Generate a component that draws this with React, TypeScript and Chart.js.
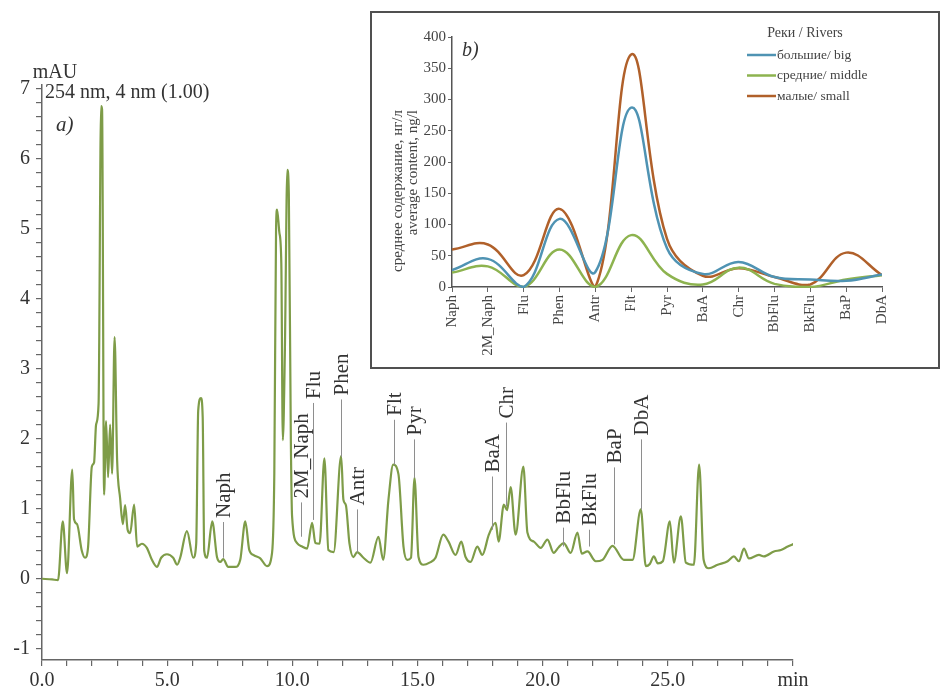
import React, { useEffect, useRef } from 'react';
import { Chart, registerables } from 'chart.js';

Chart.register(...registerables);

const FONT = "'Liberation Serif', 'Times New Roman', serif";
const TEXT = '#333333';

// ---- Chromatogram (a) ----
const retentionTimes = [
  0.0, 0.4, 0.64, 0.83, 1.0, 1.21, 1.28, 1.4, 1.59, 1.72, 1.84, 1.99, 2.08, 2.16, 2.26, 2.36, 2.4, 2.48,
  2.56, 2.64, 2.72, 2.8, 2.9, 3.0, 3.12, 3.23, 3.32, 3.42, 3.52, 3.68, 3.8, 3.99, 4.19, 4.39, 4.59, 4.76,
  4.99, 5.24, 5.4, 5.52, 5.79, 6.04, 6.16, 6.24, 6.35, 6.42, 6.48, 6.59, 6.8, 6.99, 7.12, 7.24, 7.44, 7.72,
  7.92, 8.12, 8.28, 8.44, 8.72, 8.99, 9.19, 9.28, 9.35, 9.39, 9.48, 9.56, 9.62, 9.7, 9.8, 9.86, 9.94, 9.99, 10.19,
  10.39, 10.59, 10.79, 10.92, 11.09, 11.28, 11.44, 11.65, 11.95, 12.04, 12.14, 12.28, 12.44, 12.59, 12.84,
  13.12, 13.44, 13.63, 13.84, 14.03, 14.24, 14.44, 14.59, 14.74, 14.88, 15.04, 15.24, 15.48, 15.72, 16.03,
  16.24, 16.52, 16.75, 16.92, 17.12, 17.39, 17.59, 17.85, 18.12, 18.24, 18.45, 18.58, 18.72, 18.92, 19.23,
  19.39, 19.65, 19.92, 20.19, 20.44, 20.64, 20.84, 21.12, 21.39, 21.56, 21.79, 22.12, 22.39, 22.79, 23.24,
  23.59, 23.92, 24.12, 24.28, 24.44, 24.6, 24.8, 25.08, 25.24, 25.52, 25.72, 26.04, 26.25, 26.43, 26.64,
  26.99, 27.39, 27.64, 27.84, 28.04, 28.24, 28.64, 28.84, 29.24, 29.52, 29.79, 30.04,
];
const absorbance = [
  0.0, -0.01, -0.02, 0.82, 0.08, 1.56, 0.85, 0.78, 0.4, 0.3, 0.45, 1.6, 1.66, 2.2, 2.5, 6.75, 6.7, 1.2,
  2.25, 1.45, 2.2, 1.5, 3.45, 1.7, 1.15, 0.78, 1.05, 0.7, 0.65, 1.06, 0.46, 0.5, 0.44, 0.27, 0.17, 0.3,
  0.35, 0.3, 0.2, 0.3, 0.68, 0.3, 0.5, 2.4, 2.58, 2.3, 0.4, 0.3, 0.82, 0.31, 0.24, 0.28, 0.17, 0.17,
  0.27, 0.82, 0.41, 0.34, 0.29, 0.18, 0.37, 1.5, 5.0, 5.27, 4.95, 4.5, 1.98, 3.2, 5.84, 5.5, 2.0, 0.89, 0.51,
  0.46, 0.43, 0.8, 0.51, 0.5, 1.72, 0.41, 0.38, 1.75, 1.13, 1.05, 0.51, 0.31, 0.38, 0.3,
  0.23, 0.6, 0.27, 1.13, 1.63, 1.49, 0.46, 0.27, 0.3, 1.44, 0.31, 0.2, 0.23, 0.3, 0.63,
  0.53, 0.34, 0.53, 0.31, 0.24, 0.46, 0.34, 0.63, 0.8, 0.53, 1.06, 0.98, 1.31, 0.63, 1.6,
  0.66, 0.53, 0.44, 0.56, 0.37, 0.45, 0.51, 0.37, 0.66, 0.36, 0.39, 0.25, 0.27, 0.47, 0.27,
  0.27, 0.99, 0.18, 0.21, 0.32, 0.22, 0.25, 0.82, 0.23, 0.89, 0.23, 0.2, 1.63, 0.27, 0.15,
  0.2, 0.25, 0.32, 0.25, 0.43, 0.29, 0.34, 0.32, 0.39, 0.41, 0.46, 0.5,
];

// peak identification markers (time, marker from/to in mAU)
const peakNames = ['Naph', '2M_Naph', 'Flu', 'Phen', 'Antr', 'Flt', 'Pyr', 'BaA', 'Chr', 'BbFlu', 'BkFlu', 'BaP', 'DbA'];
const peakTimes = [7.25, 10.36, 10.84, 11.96, 12.6, 14.08, 14.88, 17.96, 18.52, 20.83, 21.84, 22.83, 23.92];
const markerFrom = [0.3, 0.6, 0.84, 1.74, 0.37, 1.63, 1.44, 0.7, 1.03, 0.46, 0.46, 0.49, 0.99];
const markerTo = [0.81, 1.09, 2.51, 2.56, 0.99, 2.27, 1.99, 1.46, 2.23, 0.73, 0.7, 1.59, 1.99];

// ---- Inset (b) ----
const compounds = ['Naph', '2M_Naph', 'Flu', 'Phen', 'Antr', 'Flt', 'Pyr', 'BaA', 'Chr', 'BbFlu', 'BkFlu', 'BaP', 'DbA'];
const bigRivers = [27, 45, 0, 109, 24, 287, 62, 21, 40, 16, 12, 10, 20];
const middleRivers = [23, 33, 0, 60, 0, 83, 21, 4, 31, 5, 0, 12, 19];
const smallRivers = [60, 68, 19, 125, 0, 372, 77, 18, 30, 16, 4, 55, 19];
const seriesNames = ['большие/ big', 'средние/ middle', 'малые/ small'];
const seriesColors = ['#4f93b3', '#8db34f', '#b0602a'];
const insetYTitle = ['среднее содержание, нг/л', 'average content, ng/l'];
const insetLegendTitle = 'Реки / Rivers';

export default function App() {
  const mainRef = useRef<HTMLCanvasElement>(null);
  const insetRef = useRef<HTMLCanvasElement>(null);

  useEffect(() => {
    Chart.defaults.font.family = FONT;
    Chart.defaults.color = TEXT;

    const chromaLabels = {
      id: 'chromaLabels',
      afterDatasetsDraw(chart: any) {
        const { ctx } = chart;
        const xs = chart.scales.x;
        const ys = chart.scales.y;
        ctx.save();
        peakNames.forEach((name, i) => {
          const x = Math.round(xs.getPixelForValue(peakTimes[i])) + 0.5;
          const y0 = ys.getPixelForValue(markerFrom[i]);
          const y1 = ys.getPixelForValue(markerTo[i]);
          ctx.strokeStyle = '#8e8e8e';
          ctx.lineWidth = 1;
          ctx.beginPath();
          ctx.moveTo(x, y0);
          ctx.lineTo(x, y1);
          ctx.stroke();
          ctx.save();
          ctx.translate(x + 1, y1 - 4);
          ctx.rotate(-Math.PI / 2);
          ctx.font = `21px ${FONT}`;
          ctx.fillStyle = TEXT;
          ctx.textAlign = 'left';
          ctx.textBaseline = 'middle';
          ctx.fillText(name, 0, 0);
          ctx.restore();
        });
        ctx.fillStyle = TEXT;
        ctx.font = `20px ${FONT}`;
        ctx.textBaseline = 'alphabetic';
        ctx.textAlign = 'center';
        ctx.fillText('mAU', 55, 78);
        ctx.textAlign = 'left';
        ctx.fillText('254 nm, 4 nm (1.00)', 45, 98);
        ctx.font = `italic 21px ${FONT}`;
        ctx.fillText('a)', 56, 131);
        ctx.restore();
      },
    };

    const main = new Chart(mainRef.current as HTMLCanvasElement, {
      type: 'line',
      data: {
        datasets: [
          {
            data: retentionTimes.map((t, i) => ({ x: t, y: absorbance[i] })),
            borderColor: '#7e9c48',
            borderWidth: 2.2,
            pointRadius: 0,
            cubicInterpolationMode: 'monotone',
            fill: false,
          },
        ],
      },
      options: {
        responsive: false,
        animation: false,
        events: [],
        layout: { padding: { left: 0, top: 85, right: 149, bottom: 0 } },
        plugins: { legend: { display: false }, tooltip: { enabled: false } },
        scales: {
          x: {
            type: 'linear',
            min: 0,
            max: 30,
            afterFit: (s: any) => {
              s.height = 28;
            },
            ticks: {
              stepSize: 1,
              autoSkip: false,
              maxRotation: 0,
              includeBounds: false,
              padding: 3,
              font: { size: 20, family: FONT },
              color: TEXT,
              callback: (v: any) => {
                const n = Number(v);
                if (Math.abs(n - 30) < 1e-6) return 'min';
                if (Math.abs(n / 5 - Math.round(n / 5)) < 1e-6) return n.toFixed(1);
                return '';
              },
            },
            grid: { drawOnChartArea: false, drawTicks: true, tickLength: 6, color: '#666', tickColor: '#666', lineWidth: 1.2 },
            border: { display: true, color: '#666', width: 1.5 },
          },
          y: {
            type: 'linear',
            min: -1.16,
            max: 7.05,
            afterFit: (s: any) => {
              s.width = 42;
            },
            ticks: {
              stepSize: 0.2,
              autoSkip: false,
              includeBounds: false,
              padding: 6,
              font: { size: 20, family: FONT },
              color: TEXT,
              callback: (v: any) => {
                const n = Number(v);
                return Math.abs(n - Math.round(n)) < 1e-6 ? String(Math.round(n)) : '';
              },
            },
            grid: { drawOnChartArea: false, drawTicks: true, tickLength: 6, color: '#666', tickColor: '#666', lineWidth: 1.2 },
            border: { display: true, color: '#666', width: 1.5 },
          },
        },
      },
      plugins: [chromaLabels],
    } as any);

    const insetDecor = {
      id: 'insetDecor',
      afterDraw(chart: any) {
        const { ctx } = chart;
        ctx.save();
        ctx.fillStyle = '#444';
        ctx.textBaseline = 'middle';
        ctx.textAlign = 'center';
        ctx.font = `14px ${FONT}`;
        ctx.fillText(insetLegendTitle, 433, 20);
        chart.data.datasets.forEach((ds: any, i: number) => {
          const y = 42 + i * 20.5;
          ctx.strokeStyle = ds.borderColor;
          ctx.lineWidth = 2.5;
          ctx.beginPath();
          ctx.moveTo(375, y);
          ctx.lineTo(404, y);
          ctx.stroke();
          ctx.textAlign = 'left';
          ctx.font = `13.5px ${FONT}`;
          ctx.fillText(ds.label, 405, y);
        });
        // y-axis title (two lines, ends aligned at the top)
        ctx.font = `15px ${FONT}`;
        ctx.fillStyle = '#444';
        insetYTitle.forEach((line, i) => {
          ctx.save();
          ctx.translate(26 + i * 15, 97);
          ctx.rotate(-Math.PI / 2);
          ctx.textAlign = 'right';
          ctx.textBaseline = 'middle';
          ctx.fillText(line, 0, 0);
          ctx.restore();
        });
        ctx.font = `italic 20px ${FONT}`;
        ctx.fillStyle = TEXT;
        ctx.textAlign = 'left';
        ctx.textBaseline = 'middle';
        ctx.fillText('b)', 90, 38);
        ctx.restore();
      },
    };

    const seriesValues = [bigRivers, middleRivers, smallRivers];
    const inset = new Chart(insetRef.current as HTMLCanvasElement, {
      type: 'line',
      data: {
        labels: compounds,
        datasets: seriesValues.map((vals, i) => ({
          label: seriesNames[i],
          data: vals,
          borderColor: seriesColors[i],
          borderWidth: 2.5,
          pointRadius: 0,
          tension: 0.4,
          fill: false,
          clip: { left: 0, top: 0, right: 0, bottom: 1 },
        })),
      },
      options: {
        responsive: false,
        animation: false,
        events: [],
        layout: { padding: { left: 0, top: 24, right: 56, bottom: 0 } },
        plugins: { legend: { display: false }, tooltip: { enabled: false } },
        scales: {
          x: {
            type: 'category',
            offset: false,
            afterFit: (s: any) => {
              s.height = 80;
            },
            ticks: {
              autoSkip: false,
              minRotation: 90,
              maxRotation: 90,
              padding: 3,
              font: { size: 15, family: FONT },
              color: '#444',
            },
            grid: { drawOnChartArea: false, drawTicks: true, tickLength: 5, color: '#666', tickColor: '#666' },
            border: { display: true, color: '#555', width: 1.5 },
          },
          y: {
            type: 'linear',
            min: 0,
            max: 400,
            afterFit: (s: any) => {
              s.width = 80;
            },
            ticks: {
              stepSize: 50,
              padding: 2,
              font: { size: 15, family: FONT },
              color: '#444',
            },
            grid: { drawOnChartArea: false, drawTicks: true, tickLength: 4, color: '#666', tickColor: '#666' },
            border: { display: true, color: '#555', width: 1.5 },
          },
        },
      },
      plugins: [insetDecor],
    } as any);

    return () => {
      main.destroy();
      inset.destroy();
    };
  }, []);

  return (
    <div style={{ position: 'absolute', left: 0, top: 0, width: 942, height: 688, background: '#ffffff', overflow: 'hidden' }}>
      <canvas ref={mainRef} width={942} height={688} style={{ position: 'absolute', left: 0, top: 0, width: 942, height: 688 }} />
      <div
        style={{
          position: 'absolute',
          left: 370,
          top: 11,
          width: 566,
          height: 354,
          border: '2px solid #505050',
          background: '#ffffff',
        }}
      >
        <canvas ref={insetRef} width={566} height={354} style={{ display: 'block', width: 566, height: 354 }} />
      </div>
    </div>
  );
}
